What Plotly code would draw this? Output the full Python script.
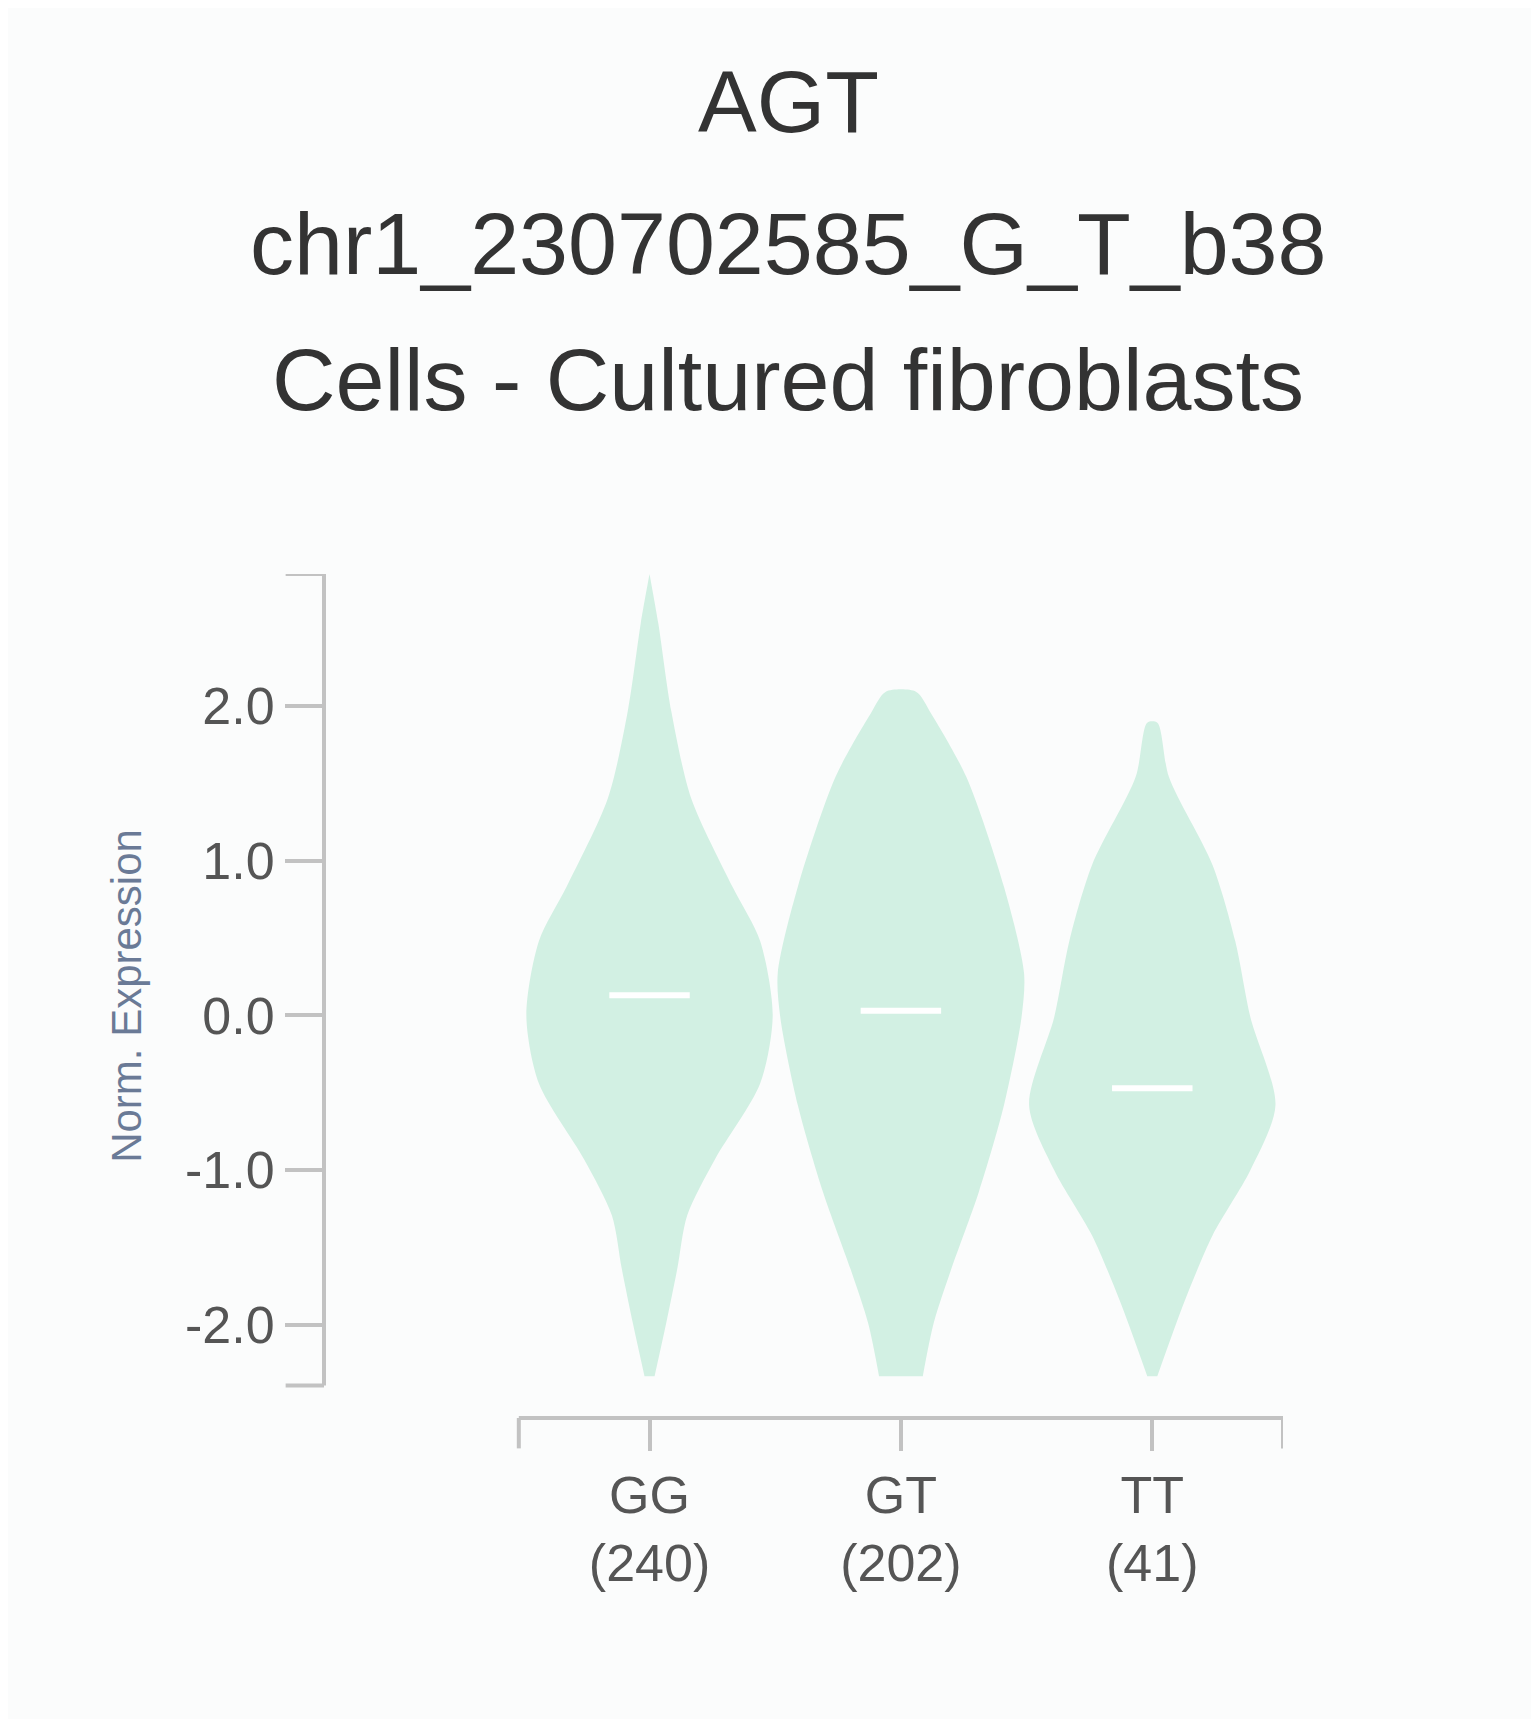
import plotly.graph_objects as go

# genotypes and sample counts
genotypes = ["GG", "GT", "TT"]
counts = [240, 202, 41]

# violin outlines: expression level -> half width (category units)
gg_levels = [-2.33, -1.99, -1.64, -1.29, -0.93, -0.44, 0.0, 0.48, 0.83, 1.4, 1.96, 2.53, 2.85]
gg_half = [0.02, 0.066, 0.11, 0.15, 0.26, 0.44, 0.49, 0.44, 0.33, 0.166, 0.087, 0.035, 0.0]
gt_levels = [-2.33, -1.99, -1.64, -1.14, -0.58, -0.01, 0.27, 0.83, 1.54, 1.95, 2.09]
gt_half = [0.087, 0.13, 0.2, 0.31, 0.41, 0.48, 0.49, 0.41, 0.26, 0.12, 0.06]
tt_levels = [-2.33, -1.84, -1.42, -1.0, -0.58, -0.01, 0.48, 0.97, 1.54, 1.89]
tt_half = [0.02, 0.13, 0.24, 0.39, 0.49, 0.39, 0.33, 0.24, 0.066, 0.02]

# box statistics
q1 = [-0.42, -0.79, -0.95]
median = [0.13, 0.03, -0.47]
q3 = [0.77, 0.64, 0.17]

title_lines = ["AGT", "chr1_230702585_G_T_b38", "Cells - Cultured fibroblasts"]

fig = go.Figure()

violin_fill = "#d2f0e3"
for i, (lv, hw) in enumerate([(gg_levels, gg_half), (gt_levels, gt_half), (tt_levels, tt_half)]):
    xs = [i + w for w in hw] + [i - w for w in hw[::-1]]
    ys = list(lv) + list(lv[::-1])
    fig.add_trace(go.Scatter(x=xs, y=ys, fill="toself", fillcolor=violin_fill,
                             line=dict(width=0, color=violin_fill, shape="spline", smoothing=0.8),
                             mode="lines", hoverinfo="skip", showlegend=False))

# boxes from precomputed stats (whiskers collapsed onto the box)
fig.add_trace(go.Box(x=[0, 1, 2], q1=q1, median=median, q3=q3, lowerfence=q1, upperfence=q3,
                     width=0.33, fillcolor="black", line=dict(color="black", width=1),
                     whiskerwidth=0, showlegend=False))

for i, m in enumerate(median):
    fig.add_trace(go.Scatter(x=[i - 0.16, i + 0.16], y=[m, m], mode="lines",
                             line=dict(color="white", width=6), showlegend=False))

axis_col = "#c2c2c2"
y_lo, y_hi = -2.39, 2.85
shapes = [
    dict(type="line", xref="paper", yref="y", x0=0, x1=0, y0=y_lo, y1=y_hi, line=dict(color=axis_col, width=4)),
    dict(type="line", xref="paper", yref="y", x0=-0.04, x1=0, y0=y_hi, y1=y_hi, line=dict(color=axis_col, width=4)),
    dict(type="line", xref="paper", yref="y", x0=-0.04, x1=0, y0=y_lo, y1=y_lo, line=dict(color=axis_col, width=4)),
    dict(type="line", xref="x", yref="paper", x0=-0.52, x1=2.52, y0=0, y1=0, line=dict(color=axis_col, width=4)),
    dict(type="line", xref="x", yref="paper", x0=-0.52, x1=-0.52, y0=0, y1=-0.036, line=dict(color=axis_col, width=4)),
    dict(type="line", xref="x", yref="paper", x0=2.52, x1=2.52, y0=0, y1=-0.036, line=dict(color=axis_col, width=4)),
]

annotations = [
    dict(text=t, xref="paper", yref="paper", x=0.484, y=yy, xanchor="center", yanchor="middle",
         showarrow=False, font=dict(size=88, color="#333"))
    for t, yy in zip(title_lines, [1.56, 1.392, 1.23])
]

fig.update_layout(
    width=1539, height=1719,
    paper_bgcolor="#fbfcfc", plot_bgcolor="#fbfcfc",
    margin=dict(l=316, r=264, t=566, b=309),
    font=dict(family="Liberation Sans, Arial", color="#444"),
    shapes=shapes, annotations=annotations,
    xaxis=dict(range=[-1.295, 2.52], tickmode="array", tickvals=[0, 1, 2],
               ticktext=[f"{g}<br>({c})" for g, c in zip(genotypes, counts)],
               ticks="outside", ticklen=32, tickwidth=4, tickcolor=axis_col,
               showgrid=False, zeroline=False, showline=False,
               tickfont=dict(size=52, color="#555")),
    yaxis=dict(range=[-2.6, 2.85], tickvals=[-2, -1, 0, 1, 2],
               ticktext=["-2.0", "-1.0", "0.0", "1.0", "2.0"],
               ticks="outside", ticklen=38, tickwidth=4, tickcolor=axis_col,
               showgrid=False, zeroline=False, showline=False,
               tickfont=dict(size=52, color="#555"),
               title=dict(text="Norm. Expression", standoff=30,
                          font=dict(size=42, color="#6a7a96"))),
)

fig.write_html("out.html")
